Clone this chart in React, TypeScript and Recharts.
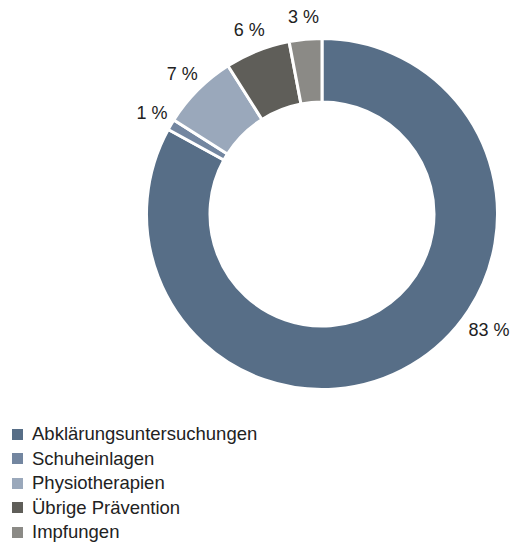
import { PieChart, Pie, Cell, Legend } from 'recharts'

const CATEGORIES = ['Abklärungsuntersuchungen', 'Schuheinlagen', 'Physiotherapien', 'Übrige Prävention', 'Impfungen']
const SHARES = [83, 1, 7, 6, 3]
const COLORS = ['#576e87', '#7386a0', '#9aa8bb', '#5f5e59', '#8b8a86']

const data = CATEGORIES.map((name, i) => ({ name, value: SHARES[i] }))

const FONT = '"Liberation Sans", Arial, Helvetica, sans-serif'
const RADIAN = Math.PI / 180

// the big slice's label is pushed up to the right, next to the ring
const renderLabel = (props: any) => {
  const { cx, cy, midAngle, outerRadius, value, index } = props
  const angle = index === 0 ? midAngle + 24.6 : midAngle
  const r = outerRadius + (index === 0 ? 28 : 22)
  const x = cx + r * Math.cos(-angle * RADIAN)
  const y = cy + r * Math.sin(-angle * RADIAN)
  return (
    <text x={x} y={y} fill="#222" fontSize={18} fontFamily={FONT} textAnchor="middle" dominantBaseline="central">
      {`${value} %`}
    </text>
  )
}

const renderLegend = () => (
  <div style={{ fontFamily: FONT, fontSize: 18.5, color: '#222' }}>
    {data.map((d, i) => (
      <div key={d.name} style={{ display: 'flex', alignItems: 'center', height: 24.5 }}>
        <span style={{ width: 11, height: 11, background: COLORS[i], marginRight: 9, display: 'inline-block' }} />
        <span>{d.name}</span>
      </div>
    ))}
  </div>
)

export default function App() {
  return (
    <div style={{ position: 'absolute', left: 0, top: 0 }}>
      <PieChart width={512} height={542} margin={{ top: 0, right: 0, bottom: 0, left: 0 }}>
        <Pie
          data={data}
          dataKey="value"
          nameKey="name"
          cx={322}
          cy={214}
          startAngle={90}
          endAngle={-270}
          outerRadius={175.5}
          innerRadius={112}
          stroke="#fff"
          strokeWidth={3}
          label={renderLabel}
          labelLine={false}
          isAnimationActive={false}
        >
          {data.map((_, i) => (
            <Cell key={i} fill={COLORS[i]} />
          ))}
        </Pie>
        <Legend content={renderLegend} wrapperStyle={{ left: 12, top: 422, width: 300 }} />
      </PieChart>
    </div>
  )
}
